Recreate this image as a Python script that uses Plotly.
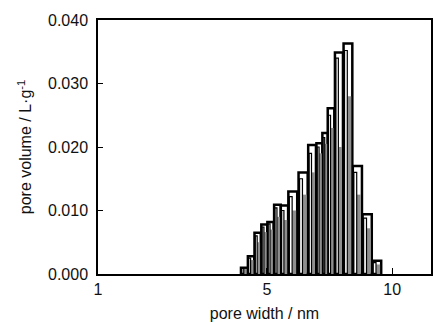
import numpy as np
import plotly.graph_objects as go

# pore width bin centres (nm)
pore_width = [4.41, 4.58, 4.75, 4.93, 5.10, 5.30, 5.51, 5.77, 6.11, 6.42,
              6.69, 6.90, 7.13, 7.45, 7.83, 8.25, 8.71, 9.18]
# envelope series (black outline)
vol_a = [0.0010, 0.0028, 0.0065, 0.0078, 0.0082, 0.0109, 0.0108, 0.0130, 0.0160,
         0.0203, 0.0206, 0.0222, 0.0261, 0.0349, 0.0363, 0.0170, 0.0094, 0.0021]
# grey series
vol_b = [0.0008, 0.0022, 0.0050, 0.0066, 0.0070, 0.0090, 0.0085, 0.0100, 0.0125,
         0.0160, 0.0190, 0.0205, 0.0230, 0.0200, 0.0280, 0.0125, 0.0072, 0.0015]
# inner black outline series
vol_c = [0.0009, 0.0025, 0.0060, 0.0074, 0.0079, 0.0104, 0.0100, 0.0122, 0.0150,
         0.0190, 0.0200, 0.0215, 0.0250, 0.0340, 0.0352, 0.0160, 0.0088, 0.0018]

x_min, x_max = 1.963, 12.4
x_tick_vals = [x_min, 5, 10]
x_tick_text = ["1", "5", "10"]
y_ticks = [0.0, 0.010, 0.020, 0.030, 0.040]

lx = np.log10(pore_width)
edges = np.concatenate([[lx[0] - (lx[1] - lx[0]) / 2], (lx[1:] + lx[:-1]) / 2,
                        [lx[-1] + (lx[-1] - lx[-2]) / 2]])
dl = np.diff(edges)


def bar_geom(frac, shift):
    """linear-space centre/width for a sub-bar covering `frac` of each log bin,
    shifted by `shift` (fraction of bin) from the bin centre"""
    lo = lx + dl * (shift - frac / 2)
    hi = lx + dl * (shift + frac / 2)
    return (10 ** lo + 10 ** hi) / 2, 10 ** hi - 10 ** lo


xa, wa = bar_geom(0.95, 0.0)
xb, wb = bar_geom(0.40, 0.16)
xc, wc = bar_geom(0.30, -0.22)

fig = go.Figure()
fig.add_trace(go.Bar(x=xa, y=vol_a, width=wa,
                     marker=dict(color="white", line=dict(color="black", width=2.5)),
                     showlegend=False))
fig.add_trace(go.Bar(x=xb, y=vol_b, width=wb,
                     marker=dict(color="#8f8f8f", line=dict(width=0)),
                     showlegend=False))
fig.add_trace(go.Bar(x=xc, y=vol_c, width=wc,
                     marker=dict(color="rgba(0,0,0,0)", line=dict(color="black", width=1.2)),
                     showlegend=False))

fig.update_layout(
    width=434, height=322, barmode="overlay",
    margin=dict(l=98, r=1, t=20, b=48),
    plot_bgcolor="white", paper_bgcolor="white",
    font=dict(family="Liberation Sans, Arial, sans-serif", size=16, color="#111"),
)
fig.update_xaxes(type="log", range=[np.log10(x_min), np.log10(x_max)],
                 tickvals=x_tick_vals, ticktext=x_tick_text,
                 ticks="inside", ticklen=6, tickcolor="black",
                 showline=True, linecolor="black", linewidth=1.5, mirror=True,
                 showgrid=False, zeroline=False,
                 title=dict(text="pore width / nm", standoff=12, font=dict(size=16)))
fig.update_yaxes(range=[0, 0.040], tickvals=y_ticks, tickformat=".3f",
                 ticks="inside", ticklen=5, tickcolor="black", ticklabelstandoff=5,
                 showline=True, linecolor="black", linewidth=1.5, mirror=True,
                 showgrid=False, zeroline=False,
                 title=dict(text="pore volume / L·g<sup>-1</sup>", standoff=12, font=dict(size=16)))

fig.write_html("out.html")
